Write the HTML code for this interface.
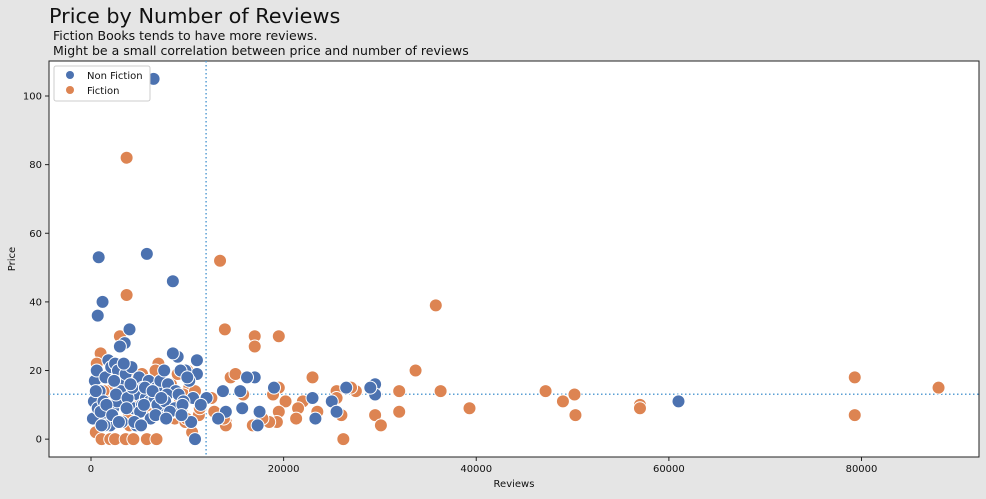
<!DOCTYPE html>
<html><head><meta charset="utf-8"><style>
body{margin:0;background:#e5e5e5;font-family:"DejaVu Sans","Liberation Sans",sans-serif;}
svg text{font-family:"DejaVu Sans","Liberation Sans",sans-serif;}
</style></head><body>
<svg id="chart" width="986" height="495" xmlns="http://www.w3.org/2000/svg">
<rect width="986" height="495" fill="#e5e5e5"/>
<text x="49" y="23" font-size="20.8" fill="#111">Price by Number of Reviews</text>
<text x="53" y="40" font-size="12.5" fill="#111">Fiction Books tends to have more reviews.</text>
<text x="53" y="55" font-size="12.5" fill="#111">Might be a small correlation between price and number of reviews</text>
<rect x="49" y="61" width="930" height="396" fill="#fff" stroke="#222" stroke-width="1"/>
<g id="ticks"></g>
<g id="refs"></g>
<g id="pts"></g>
<text x="514" y="487" font-size="10" text-anchor="middle" fill="#111">Reviews</text>
<text x="15" y="259" font-size="10" text-anchor="middle" fill="#111" transform="rotate(-90 15 259)">Price</text>
<g>
<rect x="54" y="66" width="96" height="35" fill="#fff" stroke="#ccc" rx="2"/>
<circle cx="70" cy="75" r="4" fill="#4c72b0"/>
<text x="87" y="79" font-size="10" fill="#111">Non Fiction</text>
<circle cx="70" cy="90" r="4" fill="#dd8452"/>
<text x="87" y="94" font-size="10" fill="#111">Fiction</text>
</g>
</svg>
<script>
const xTicks=[0,20000,40000,60000,80000];
const yTicks=[0,20,40,60,80,100];
const meanReviews=11950;
const meanPrice=13.1;
const nfReviews=[6500,800,5800,1200,700,8500,4000,3500,3000,61000,29500,29500,26500,29000,23000,23300,25000,25500,19000,17000,16200,17500,17300,15500,15700,14000,13700,13200,12000,11000,11000,9800,9000,8500,10200,200,400,600,900,1500,1800,2100,2500,2800,3300,3600,4200,4600,5000,5400,6000,6300,6800,7200,7600,8000,8800,9300,10000,10600,300,700,1300,1700,2300,2700,3100,3900,4400,4900,5300,5700,6100,6600,7000,7400,7900,8300,9100,9600,1000,1600,2000,2600,3200,3800,4300,5100,5600,6200,6900,7700,8700,9500,10400,500,1400,2200,2900,3400,4100,4700,5500,6400,7300,8200,9400,10800,1100,2400,3700,4500,5200,6700,7800,11400];
const nfPrice=[105,53,54,40,36,46,32,28,27,11,16,13,15,15,12,6,11,8,15,18,18,8,4,14,9,8,14,6,12,23,19,20,24,25,17,6,17,20,14,18,23,21,22,20,17,19,21,16,18,15,17,14,15,17,20,16,14,20,18,12,11,9,11,6,9,11,14,12,9,13,10,12,11,12,9,10,13,8,13,11,8,10,4,13,5,12,15,8,15,6,10,11,9,10,5,14,4,7,5,22,16,4,10,14,12,8,7,0,4,17,9,5,4,7,6,10];
const fReviews=[3700,3700,13400,13900,35800,17000,19500,17000,14500,23000,33700,36300,39300,47200,49000,50200,50300,57000,57000,79300,79300,88000,32000,32000,29500,30100,26200,26000,27500,27000,25500,25500,23500,22000,21500,21300,20200,19500,19500,19300,18900,18500,17800,16800,15800,15000,14000,14000,13800,12800,11600,11200,10500,10200,3000,1000,500,1100,2000,2500,3600,4400,5800,6800,1500,2200,3300,4300,5000,5600,6200,7000,7600,8300,9000,9600,10300,800,1800,2800,3800,4800,6500,7300,8000,8700,9400,10000,10800,11300,12500,1300,2600,4000,5300,6000,6700,7800,8500,9200,9800,2400,4600,7100,9900,600];
const fPrice=[82,42,52,32,39,30,30,27,18,18,20,14,9,14,11,13,7,10,9,18,7,15,14,8,7,4,0,7,14,15,14,12,8,11,9,6,11,15,8,5,13,5,6,4,13,19,5,4,6,8,11,7,2,15,30,25,2,0,0,0,0,0,0,0,7,21,12,5,9,16,7,22,12,16,19,13,18,8,14,21,6,10,11,9,13,6,8,20,14,9,12,14,10,4,19,10,20,15,8,12,5,17,18,11,6,22];
const ns="http://www.w3.org/2000/svg";
const X0=49,X1=979,Y0=457,Y1=61;
const xMin=-4360,xMax=92200,yMin=-5.2,yMax=110.2;
function sx(v){return X0+(v-xMin)/(xMax-xMin)*(X1-X0);}
function sy(v){return Y0-(v-yMin)/(yMax-yMin)*(Y0-Y1);}
function mk(t,a){const e=document.createElementNS(ns,t);for(const k in a)e.setAttribute(k,a[k]);return e;}
const tg=document.getElementById('ticks');
xTicks.forEach(v=>{
 const l=mk('line',{x1:sx(v),x2:sx(v),y1:Y0,y2:Y0+4,stroke:'#222'});
 
 
 tg.appendChild(l);
 const t=mk('text',{x:sx(v),y:Y0+15,'font-size':10,'text-anchor':'middle',fill:'#111'});
 t.textContent=v;
 
 
 tg.appendChild(t);
});
yTicks.forEach(v=>{
 const l=mk('line',{x1:X0-4,x2:X0,y1:sy(v),y2:sy(v),stroke:'#222'});
 
 
 tg.appendChild(l);
 const t=mk('text',{x:X0-7,y:sy(v)+3.5,'font-size':10,'text-anchor':'end',fill:'#111'});
 t.textContent=v;
 
 
 tg.appendChild(t);
});
const rg=document.getElementById('refs');
const vl=mk('line',{x1:sx(meanReviews),x2:sx(meanReviews),y1:Y1,y2:Y0,stroke:'#5a9fd4','stroke-width':1.5,'stroke-dasharray':'1.5,2.5'});


rg.appendChild(vl);
const hl=mk('line',{x1:X0,x2:X1,y1:sy(meanPrice),y2:sy(meanPrice),stroke:'#5a9fd4','stroke-width':1.5,'stroke-dasharray':'1.5,2.5'});


rg.appendChild(hl);
const pg=document.getElementById('pts');
fReviews.forEach((r,i)=>{
 const c=mk('circle',{cx:sx(r),cy:sy(fPrice[i]),r:6.5,fill:'#dd8452',stroke:'#fff','stroke-width':1});
 
 
 pg.appendChild(c);
});
nfReviews.forEach((r,i)=>{
 const c=mk('circle',{cx:sx(r),cy:sy(nfPrice[i]),r:6.5,fill:'#4c72b0',stroke:'#fff','stroke-width':1});
 
 
 pg.appendChild(c);
});
</script>
</body></html>
